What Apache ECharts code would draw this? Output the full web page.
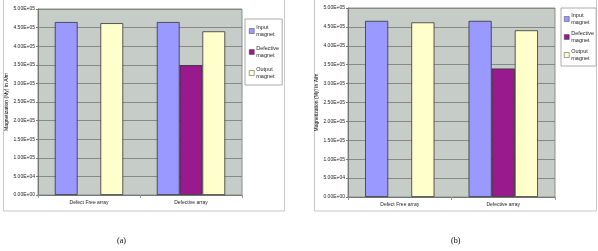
<!DOCTYPE html>
<html><head><meta charset="utf-8">
<script src="https://cdn.jsdelivr.net/npm/echarts@6/dist/echarts.min.js"></script>
<style>html,body{margin:0;padding:0;background:#fff}#c{width:598px;height:251px}</style>
</head><body><div id="c"></div>
<script>
const categories = ['Defect Free array', 'Defective array'];
const seriesNames = ['Input\nmagnet', 'Defective\nmagnet', 'Output\nmagnet'];
const yTickLabels = ['0.00E+00','5.00E+04','1.00E+05','1.50E+05','2.00E+05','2.50E+05','3.00E+05','3.50E+05','4.00E+05','4.50E+05','5.00E+05'];
const yStep = 50000;
// chart (a)
const inputA = [465000, 465000];
const defectiveA = ['-', 349000];
const outputA = [462000, 440000];
// chart (b)
const inputB = [466000, 466000];
const defectiveB = ['-', 340000];
const outputB = [462000, 441000];
const yTitle = 'Magnetization (My) in A/m';
const panelLabels = ['(a)', '(b)'];

const colors = ['#9999ff', '#991a8c', '#ffffcc'];
const font = 'Liberation Sans, Arial, sans-serif';

function yAxis(gi, gap) {
  return {
    gridIndex: gi, type: 'value', min: 0, max: yStep * (yTickLabels.length - 1), interval: yStep,
    name: yTitle, nameLocation: 'middle', nameGap: gap, nameRotate: 90,
    nameTextStyle: { fontSize: 5, color: '#000', fontFamily: font },
    axisLine: { show: true, lineStyle: { color: '#777', width: 1 } },
    axisTick: { show: true, length: 2, lineStyle: { color: '#777' } },
    axisLabel: { fontSize: 5, color: '#222', fontFamily: font, margin: 3,
      formatter: v => yTickLabels[Math.round(v / yStep)] },
    splitLine: { show: true, lineStyle: { color: '#858a87', width: 1 } }
  };
}
function xAxis(gi) {
  return {
    gridIndex: gi, type: 'category', data: categories,
    axisLine: { lineStyle: { color: '#777' } },
    axisTick: { show: true, length: 3, lineStyle: { color: '#999' } },
    axisLabel: { fontSize: 5, color: '#222', fontFamily: font, margin: 5 },
    splitLine: { show: false }
  };
}
function bars(gi, data) {
  return data.map((d, i) => ({
    name: seriesNames[i], type: 'bar', xAxisIndex: gi, yAxisIndex: gi, data: d,
    barGap: '0%', barCategoryGap: '33%',
    itemStyle: { color: colors[i], borderColor: '#333', borderWidth: 0.8 },
    emphasis: { disabled: true }, animation: false
  }));
}
function legend(left, top, gap, pad) {
  return {
    left: left, top: top, orient: 'vertical', data: seriesNames,
    itemWidth: 5, itemHeight: 5, itemGap: gap, icon: 'rect',
    itemStyle: { borderColor: '#444', borderWidth: 0.5 },
    borderColor: '#aaa', borderWidth: 1, padding: pad, backgroundColor: '#fff',
    textStyle: { fontSize: 5.5, lineHeight: 7, color: '#222', fontFamily: font, padding: [0, 0, 0, -3] },
    selectedMode: false
  };
}

const chart = echarts.init(document.getElementById('c'), null, { renderer: 'canvas' });
chart.setOption({
  backgroundColor: '#fff',
  animation: false,
  grid: [
    { left: 38, top: 9, width: 204, height: 186, show: true, backgroundColor: '#c6ccc8', borderColor: '#8a8f8c', borderWidth: 1 },
    { left: 348, top: 8, width: 207, height: 189, show: true, backgroundColor: '#c6ccc8', borderColor: '#8a8f8c', borderWidth: 1 }
  ],
  xAxis: [xAxis(0), xAxis(1)],
  yAxis: [yAxis(0, 27), yAxis(1, 29)],
  legend: [legend(245, 19, 7, [5, 3, 5, 4]), legend(561, 8, 4, [4, 2, 4, 3])],
  series: [...bars(0, [inputA, defectiveA, outputA]), ...bars(1, [inputB, defectiveB, outputB])],
  graphic: [
    { type: 'rect', shape: { x: 3.5, y: -1, width: 281, height: 212 }, style: { fill: 'none', stroke: '#c8c8c8', lineWidth: 1 }, z: -1 },
    { type: 'rect', shape: { x: 314.5, y: -1, width: 282, height: 212 }, style: { fill: 'none', stroke: '#c8c8c8', lineWidth: 1 }, z: -1 },
    { type: 'text', left: 117, top: 237, style: { text: panelLabels[0], fontSize: 8, fontFamily: 'Liberation Serif, serif', fill: '#000' } },
    { type: 'text', left: 451, top: 237, style: { text: panelLabels[1], fontSize: 8, fontFamily: 'Liberation Serif, serif', fill: '#000' } }
  ]
});
</script></body></html>
